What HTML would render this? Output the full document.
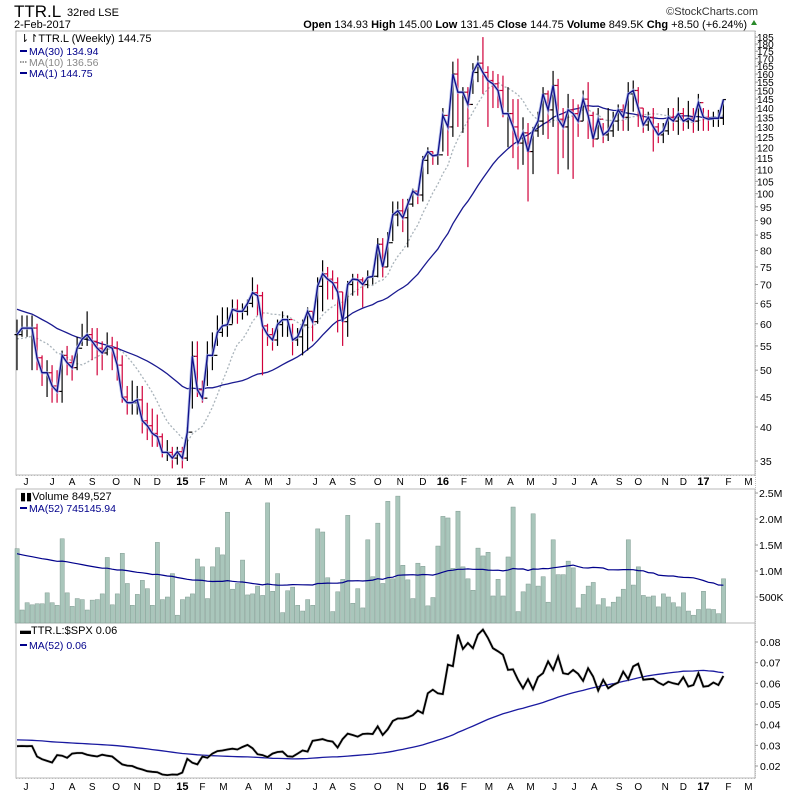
<!DOCTYPE html>
<html><head><meta charset="utf-8"><title>TTR.L</title>
<style>
body{margin:0;background:#fff;width:800px;height:795px;overflow:hidden;font-family:"Liberation Sans",sans-serif;}
svg text{font-family:"Liberation Sans",sans-serif;}
</style></head>
<body>
<svg id="chart" width="800" height="795" viewBox="0 0 800 795" xmlns="http://www.w3.org/2000/svg">
<rect width="800" height="795" fill="#fff"/>
<g>
<text x="14" y="17" font-size="17" fill="#000" transform="scale(1,1)">TTR.L</text>
<text x="67" y="16" font-size="11" fill="#000">32red LSE</text>
<text x="14" y="28" font-size="11" fill="#000">2-Feb-2017</text>
<text x="758" y="15" font-size="11" fill="#333" text-anchor="end">©StockCharts.com</text>
<text x="747" y="28" font-size="11" fill="#000" text-anchor="end"><tspan font-weight="bold">Open</tspan> 134.93 <tspan font-weight="bold">High</tspan> 145.00 <tspan font-weight="bold">Low</tspan> 131.45 <tspan font-weight="bold">Close</tspan> 144.75 <tspan font-weight="bold">Volume</tspan> 849.5K <tspan font-weight="bold">Chg</tspan> +8.50 (+6.24%)</text>
<path d="M751 25 L754 20 L757 25 Z" fill="#2a8a2a"/>
</g>
<g id="panels"></g>
<g id="marks"></g>
<g>
<text x="20" y="42" font-size="11" fill="#000">⇂↾TTR.L (Weekly) 144.75</text>
<line x1="20" y1="51" x2="27" y2="51" stroke="#00008b" stroke-width="2"/>
<text x="29" y="55" font-size="10.5" fill="#00008b">MA(30) 134.94</text>
<line x1="20" y1="62" x2="27" y2="62" stroke="#999" stroke-width="2" stroke-dasharray="1.5,1"/>
<text x="29" y="66" font-size="10.5" fill="#888">MA(10) 136.56</text>
<line x1="20" y1="73" x2="27" y2="73" stroke="#00008b" stroke-width="2"/>
<text x="29" y="77" font-size="10.5" fill="#00008b">MA(1) 144.75</text>
</g>
<g>
<text x="20" y="500" font-size="11" fill="#000">▮▮Volume 849,527</text>
<line x1="20" y1="508" x2="27" y2="508" stroke="#00008b" stroke-width="2"/>
<text x="29" y="512" font-size="10.5" fill="#00008b">MA(52) 745145.94</text>
</g>
<g>
<text x="20" y="634" font-size="11" fill="#000">▬TTR.L:$SPX 0.06</text>
<line x1="20" y1="645" x2="27" y2="645" stroke="#00008b" stroke-width="2"/>
<text x="29" y="649" font-size="10.5" fill="#00008b">MA(52) 0.06</text>
</g>
</svg>
<script>
const closes=[57.5,59,59,59,52.5,49.5,49.5,47,46,53,
51.5,50.5,54.5,56.5,57.5,56,54.5,53.5,55,54.5,
51,45,44,44,44.5,41,40.2,39,38.5,36.2,
36.2,35.4,36.3,35.4,39.2,52.8,46.3,44.8,53,53,
58,59.5,59.8,63.5,63,63,65,67.8,67,59.5,
57.5,56.3,59.8,61,61,56.3,57,59.7,63,60.5,
69.5,73,71.5,70.5,68,60.5,70,71.5,71.3,70,
72,72.3,82,75,82.5,92,93.5,91,96,101,
99.5,114,118,116,116.5,136,130,160,149,149,
142,161,167,161,156,154,150,137,137,130,
122,127,118,128,133,148,139,153,134,130,
139,137,133,145,136,124,134,126,128,133,
139,135,148,150,140,131,135,130,126,128,
135,133,137,133,134.5,133,143,135,134,134.5,
134.5,144.75];
const highs=[61,62,62,62,60,53,52,51,50,54,
55,53,57,60,63,59,59,56,58,57,
56,53,47,48,47,47,44,43,42,39,
38,37,37,37,40,56,56,48,56,58,
62,64,64,66,66,65,66,72,70,68,
60,59,61,63,62,60,59,61,64,63,
72,77,75,74,72,68,71,73,73,72,
74,74,84,84,86,97,97,98,98,102,
101,116,120,118,118,140,133,168,170,152,
152,167,172,185,165,162,160,159,152,145,
145,135,132,130,138,152,150,162,157,140,
148,145,142,150,155,138,140,132,140,138,
142,142,155,156,152,140,138,140,132,132,
140,140,146,140,144,140,148,140,139,138,
139,145];
const lows=[50,57,57,50,50,47,45,44,44,44,
49,48,50,55,55,52,49,50,53,50,
48,44,42,42,42,39,38,37,37,35.5,
35,34,34.5,34,35,43,45,44,47,50,
55,57,57,60,60,61,62,64,62,49,
55,54,55,57,57,53,55,53,54,56,
60,63,66,66,58,55,57,67,67,64,
69,70,72,72,75,83,88,86,81,95,
96,97,108,112,112,118,116,125,130,127,
111,148,155,148,130,140,140,135,120,115,
110,112,97,108,125,126,124,130,108,115,
110,106,125,133,124,120,124,122,123,125,
128,128,128,138,130,127,128,118,122,122,
126,128,126,128,129,127,128,128,128,130,
130,131];
const priorCloses=[72,71,70,71,70,69,68,69,68,67,66,67,66,65,64,65,64,63,63,62,58,57,56,57,56,55,56,57,56];
const volumesM=[1.43,0.25,0.39,0.35,0.37,0.37,0.58,0.39,0.34,1.62,
0.58,0.32,0.47,0.45,0.25,0.44,0.45,0.56,1.26,0.35,
0.56,1.34,0.76,0.34,0.55,0.82,0.66,0.34,1.55,0.45,
0.5,0.95,0.15,0.45,0.5,0.56,1.23,1.08,0.47,1.08,1.45,
1.31,2.13,0.65,0.76,1.21,0.54,0.56,0.71,0.53,2.31,
0.61,0.95,0.2,0.62,0.69,0.34,0.23,0.45,0.34,1.81,
1.75,0.87,0.22,0.6,0.84,2.07,0.38,0.66,0.29,1.6,
0.89,1.92,0.76,2.34,0.85,2.44,1.11,0.83,0.47,1.15,
1.09,0.33,0.49,1.48,2.05,2.02,1.05,2.15,1.08,0.85,
0.63,1.44,1.29,1.36,0.52,0.84,0.52,1.27,2.23,0.22,0.6,
0.75,2.1,0.71,0.89,0.4,1.6,0.93,0.93,1.19,1.06,
0.29,0.55,0.71,0.78,0.35,0.47,0.31,0.4,0.5,0.65,
1.6,0.73,1.08,0.53,0.5,0.52,0.31,0.56,0.5,0.39,
0.31,0.58,0.23,0.15,0.26,0.61,0.27,0.26,0.18,0.85];
const priorVolumeAvgM=1.33;
const ratioValues=[0.0296,0.0297,0.0296,0.0297,0.0246,0.0233,0.0225,0.0217,0.0253,0.025,
0.024,0.026,0.0263,0.0263,0.0255,0.025,0.0246,0.0255,0.025,0.0246,
0.0226,0.0208,0.0202,0.02,0.019,0.0183,0.0175,0.0172,0.017,0.0159,
0.0156,0.0159,0.0158,0.0168,0.0235,0.0216,0.0208,0.0246,0.024,0.026,
0.0272,0.0275,0.028,0.0284,0.028,0.0292,0.0302,0.0286,0.0257,0.0253,
0.0243,0.026,0.0268,0.027,0.0247,0.0245,0.026,0.0275,0.027,0.0322,0.0326,
0.033,0.0322,0.0318,0.0289,0.033,0.0357,0.035,0.0342,0.0355,0.0357,
0.0355,0.0392,0.035,0.0377,0.0418,0.043,0.043,0.0435,0.0446,0.0468,
0.0455,0.0552,0.0569,0.0552,0.0548,0.069,0.0683,0.0836,0.0766,0.0795,
0.077,0.0836,0.086,0.082,0.077,0.0755,0.0738,0.0665,0.0668,0.0617,
0.0576,0.062,0.0571,0.063,0.0649,0.0706,0.0665,0.073,0.0649,0.0644,
0.0665,0.0646,0.0612,0.0673,0.0633,0.0565,0.0617,0.0576,0.0592,0.0604,
0.0657,0.062,0.0682,0.0695,0.0617,0.062,0.0622,0.0604,0.0592,0.0608,0.06,
0.0595,0.063,0.0584,0.0592,0.0649,0.0584,0.0587,0.0604,0.0592,0.0636];
const priorRatioAvg=0.0327;
const priceTicks=[35,40,45,50,55,60,65,70,75,80,85,90,95,100,105,110,115,120,125,130,135,140,145,150,155,160,165,170,175,180,185];
const volumeTicks=[0.5,1.0,1.5,2.0,2.5];
const volumeTickLabels=["500K","1.0M","1.5M","2.0M","2.5M"];
const ratioTicks=[0.02,0.03,0.04,0.05,0.06,0.07,0.08];
const monthLabels=["J","J","A","S","O","N","D","15","F","M","A","M","J","J","A","S","O","N","D","16","F","M","A","M","J","J","A","S","O","N","D","17","F","M"];
const monthWeeks=[1.8,7,11,15,19.8,24,28,33,37,41.2,46.2,50.2,54.2,59.5,63,67,72,76.5,81,85,89.2,94.2,98.5,102.5,107.3,111.2,115.2,120.2,124,129.4,133,137,142,146];

const NS="http://www.w3.org/2000/svg";
const svg=document.getElementById('chart');
const panels=document.getElementById('panels');
const marks=document.getElementById('marks');
const L=16,R=755;
const xW=i=>17+i*5.01;
const yP=p=>461-254.6*Math.log(p/35);
const yV=v=>623-52*v;
const yR=r=>642+(0.08-r)*2067;
function el(tag,attrs,parent){const e=document.createElementNS(NS,tag);for(const k in attrs)e.setAttribute(k,attrs[k]);(parent||marks).appendChild(e);return e;}

// panel frames
[[31,475,'price-panel'],[489,623,'volume-panel'],[623,778,'ratio-panel']].forEach(p=>{
  const r=el('rect',{x:L,y:p[0],width:R-L,height:p[1]-p[0],fill:'none',stroke:'#b8b8b8','stroke-width':1},panels);
  
  
});
// month axes
[[475,489,485],[778,795,790]].forEach((a,k)=>{
  const g=el('g',{},panels);
  
  
  el('line',{x1:L,y1:a[0]+0.5,x2:R,y2:a[0]+0.5,stroke:'#bbb','stroke-dasharray':'1,2'},g);
  monthLabels.forEach((m,j)=>{
    const t=el('text',{x:xW(monthWeeks[j]),y:a[2],'font-size':/\d/.test(m)?11:10,'font-weight':/\d/.test(m)?'bold':'normal','text-anchor':'middle',fill:'#000'},g);
    t.textContent=m;
    
    
  });
});
// y axes
const ga=el('g',{},panels);


el('line',{x1:R+0.5,y1:31,x2:R+0.5,y2:778,stroke:'#bbb','stroke-dasharray':'1,1'},ga);
priceTicks.forEach(p=>{
  const y=yP(p);
  el('line',{x1:R,y1:y,x2:R+3,y2:y,stroke:'#999'},ga);
  const t=el('text',{x:p>=100?757:760,y:y+4,'font-size':p>=100?10:10.5,fill:'#000'},ga);
  t.textContent=p;
  
  
});
volumeTicks.forEach((v,j)=>{
  const y=yV(v);
  el('line',{x1:R,y1:y,x2:R+3,y2:y,stroke:'#999'},ga);
  const t=el('text',{x:759,y:y+4,'font-size':10.5,fill:'#000'},ga);
  t.textContent=volumeTickLabels[j];
  
  
});
ratioTicks.forEach(r=>{
  const y=yR(r);
  el('line',{x1:R,y1:y,x2:R+3,y2:y,stroke:'#999'},ga);
  const t=el('text',{x:760,y:y+4,'font-size':10.5,fill:'#000'},ga);
  t.textContent=r.toFixed(2);
  
  
});

// moving averages
function sma(arr,prior,n){const all=prior.concat(arr);return arr.map((_,i)=>{const e=prior.length+i+1;const s=all.slice(Math.max(0,e-n),e);return s.reduce((a,b)=>a+b,0)/s.length;});}
function smaConst(arr,pre,n){return arr.map((_,i)=>{let s=0;for(let k=i-n+1;k<=i;k++)s+=k<0?pre:arr[k];return s/n;});}
const ma30=sma(closes,priorCloses,30);
const ma10=sma(closes,priorCloses,10);
const volMa=smaConst(volumesM,priorVolumeAvgM,52);
const ratioMa=smaConst(ratioValues,priorRatioAvg,52);
const pathOf=(arr,fy)=>arr.map((v,i)=>(i?'L':'M')+xW(i).toFixed(1)+' '+fy(v).toFixed(1)).join(' ');

// volume bars
volumesM.forEach((v,i)=>{
  const b=el('rect',{x:xW(i)-2,y:yV(v),width:4.2,height:623-yV(v),fill:'#a9c6bb',stroke:'#7f9a90','stroke-width':0.5});
  
  
});
const vm=el('path',{d:pathOf(volMa,yV),fill:'none',stroke:'#00008b','stroke-width':1.2});



// price MAs
const m10=el('path',{d:pathOf(ma10,yP),fill:'none',stroke:'#aab4bb','stroke-width':1.3,'stroke-dasharray':'2,2'});


const m30=el('path',{d:pathOf(ma30,yP),fill:'none',stroke:'#1a1a90','stroke-width':1.3});


// OHLC bars
closes.forEach((c,i)=>{
  const o=i?closes[i-1]:c;
  const col=(i&&c<closes[i-1])?'#d0003a':'#000';
  const x=xW(i);
  const g=el('g',{stroke:col,'stroke-width':1.2});
  
  
  el('line',{x1:x,y1:yP(highs[i]),x2:x,y2:yP(lows[i])},g);
  el('line',{x1:x-2.5,y1:yP(o),x2:x,y2:yP(o)},g);
  el('line',{x1:x,y1:yP(c),x2:x+2.5,y2:yP(c)},g);
});
el('path',{d:pathOf(closes,yP),fill:'none',stroke:'#aab8e8','stroke-width':3,opacity:0.8});
const m1=el('path',{d:pathOf(closes,yP),fill:'none',stroke:'#10108a','stroke-width':1.3});



// ratio
const rm=el('path',{d:pathOf(ratioMa,yR),fill:'none',stroke:'#1a1aa0','stroke-width':1.3});


el('path',{d:pathOf(ratioValues,yR),fill:'none',stroke:'#999','stroke-width':3,opacity:0.35});
const rl=el('path',{d:pathOf(ratioValues,yR),fill:'none',stroke:'#000','stroke-width':1.8});


</script>
</body></html>
